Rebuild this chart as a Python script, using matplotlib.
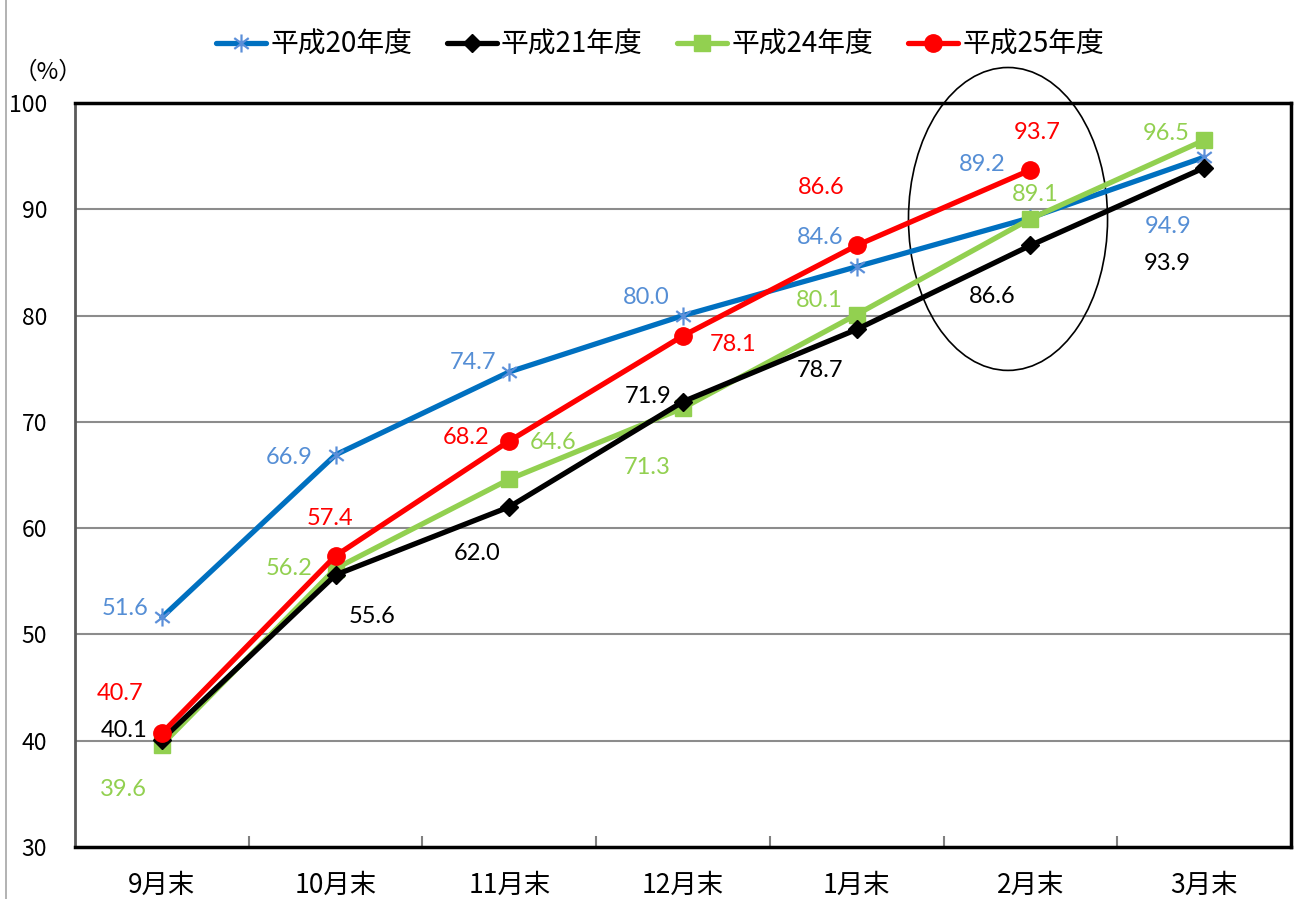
import matplotlib
matplotlib.use("Agg")
import matplotlib.pyplot as plt
from matplotlib.path import Path
from matplotlib.patches import Ellipse
from matplotlib.lines import Line2D
import numpy as np

plt.rcParams['font.family'] = ['Noto Sans CJK JP', 'DejaVu Sans']

# ---- data ----
categories = ["9月末", "10月末", "11月末", "12月末", "1月末", "2月末", "3月末"]
series_names = ["平成20年度", "平成21年度", "平成24年度", "平成25年度"]
h20 = [51.6, 66.9, 74.7, 80.0, 84.6, 89.2, 94.9]
h21 = [40.1, 55.6, 62.0, 71.9, 78.7, 86.6, 93.9]
h24 = [39.6, 56.2, 64.6, 71.3, 80.1, 89.1, 96.5]
h25 = [40.7, 57.4, 68.2, 78.1, 86.6, 93.7]
yticks = [30, 40, 50, 60, 70, 80, 90, 100]

# ---- label offsets (pixels) ----
off20 = [(-37, 9), (-46, -3), (-36, 9), (-37, 18), (-37, 29), (-48, 53), (-36, -69)]
off21 = [(-38, 9), (37, -42), (-32, -47), (-35, 5), (-37, -41), (-38, -51), (-37, -96)]
off24 = [(-38, -45), (-47, 0), (44, 37), (-36, -59), (-37, 14), (5, 24), (-38, 7)]
off25 = [(-42, 40), (-6, 37), (-43, 3), (50, -9), (-35, 58), (7, 37)]

W, H = 1303, 899
fig = plt.figure(figsize=(W / 100, H / 100), dpi=100)
ax = fig.add_axes([75 / W, 1 - 847 / H, (1291 - 75) / W, (847 - 103) / H])

x = np.arange(len(categories))

# asterisk marker (vertical line + X)
ast = Path([(0, -1), (0, 1), (-0.8, -0.6), (0.8, 0.6), (-0.8, 0.6), (0.8, -0.6)],
           [Path.MOVETO, Path.LINETO, Path.MOVETO, Path.LINETO, Path.MOVETO, Path.LINETO])

styles = [
    dict(data=h20, color="#0070C0", marker=ast, ms=13, mfc="none", mec="#5B8FD9", mew=1.6,
         lab="#558ED5", off=off20, z=3),
    dict(data=h24, color="#92D050", marker="s", ms=12, mfc="#92D050", mec="#92D050", mew=1,
         lab="#92D050", off=off24, z=4),
    dict(data=h21, color="#000000", marker="D", ms=9, mfc="#000000", mec="#000000", mew=1,
         lab="#000000", off=off21, z=5),
    dict(data=h25, color="#FF0000", marker="o", ms=12.5, mfc="#FF0000", mec="#FF0000", mew=1,
         lab="#FF0000", off=off25, z=6),
]
name_map = {id(h20): series_names[0], id(h21): series_names[1],
            id(h24): series_names[2], id(h25): series_names[3]}

handles = {}
for s in styles:
    d = s["data"]
    xs = x[:len(d)]
    ln, = ax.plot(xs, d, color=s["color"], lw=3.8, marker=s["marker"], ms=s["ms"],
                  mfc=s["mfc"], mec=s["mec"], mew=s["mew"], zorder=s["z"],
                  solid_capstyle="round")
    handles[name_map[id(d)]] = ln
    for xi, v, o in zip(xs, d, s["off"]):
        ax.annotate(f"{v:.1f}", (xi, v), xytext=o, textcoords="offset pixels",
                    ha="center", va="center", color=s["lab"], fontsize=17,
                    family=["Lato", "DejaVu Sans"], zorder=10)

# ellipse highlighting February
ell = Ellipse((4.871, 89.09), width=1.146, height=28.5, fill=False, edgecolor="black",
              lw=1.2, clip_on=False, zorder=2)
ax.add_patch(ell)

ax.set_xlim(-0.5, 6.5)
ax.set_ylim(30, 100)
ax.set_yticks(yticks)
ax.set_yticklabels([str(t) for t in yticks], fontsize=16.5)
ax.set_xticks(x)
ax.set_xticklabels(categories, fontsize=19)
ax.set_xticks(np.arange(0.5, 6.0, 1.0), minor=True)
ax.tick_params(axis="x", which="major", length=0, pad=18)
ax.tick_params(axis="x", which="minor", direction="in", length=8, width=1.5, color="#808080")
ax.tick_params(axis="y", length=0, pad=20)

for t in yticks[1:-1]:
    ax.axhline(t, color="#8C8C8C", lw=1.5, zorder=1)

for side in ["top", "right", "bottom"]:
    ax.spines[side].set_color("black")
    ax.spines[side].set_linewidth(2.5)
ax.spines["left"].set_color("#595959")
ax.spines["left"].set_linewidth(2)

fig.text(48 / W, 1 - 72 / H, "（%）", ha="center", va="center", fontsize=17)

leg = fig.legend([handles[n] for n in series_names], series_names, loc="center",
                 bbox_to_anchor=(660 / W, 1 - 45 / H), ncol=4, frameon=False,
                 fontsize=20, handlelength=1.8, handletextpad=0.15, columnspacing=1.25,
                 borderaxespad=0)

# left border line of the chart
fig.add_artist(Line2D([5.5 / W, 5.5 / W], [0, 1], color="#A6A6A6", lw=1.2))

fig.savefig("out.png", dpi=100)
